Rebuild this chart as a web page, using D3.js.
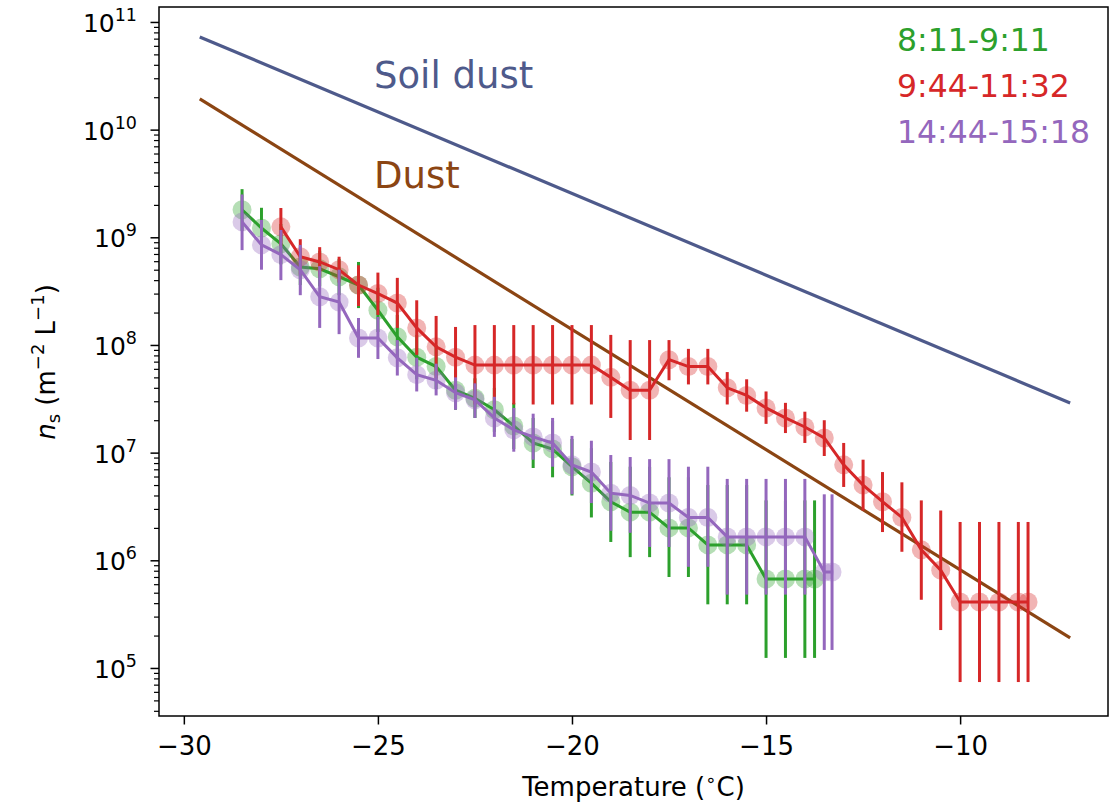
<!DOCTYPE html>
<html><head><meta charset="utf-8">
<script src="https://cdn.jsdelivr.net/npm/d3@7"></script>
<style>body{margin:0;background:#fff;} text{font-family:"DejaVu Sans",sans-serif;}</style>
</head><body>
<svg id="chart" width="1110" height="803"></svg>
<script>
// ---------- data ----------
const xTicks = [-30, -25, -20, -15, -10];
const yTickExps = [5, 6, 7, 8, 9, 10, 11];
const seriesLabels = ["8:11-9:11", "9:44-11:32", "14:44-15:18"];
const seriesColors = ["#2ca02c", "#d62728", "#9467bd"];

const soilDustT = [-29.59, -7.165];
const soilDustNs = [7.26e10, 2.89e7];
const dustT = [-29.59, -7.165];
const dustNs = [1.93e10, 1.90e5];

const greenT = [-28.5,-28,-27.5,-27,-26.5,-26,-25.5,-25,-24.5,-24,-23.5,-23,-22.5,-22,-21.5,-21,-20.5,-20,-19.5,-19,-18.5,-18,-17.5,-17,-16.5,-16,-15.5,-15,-14.5,-14,-13.75];
const greenNs = [1.8e9,1.22e9,8.7e8,5.3e8,5.1e8,4.3e8,3.6e8,2.1e8,1.19e8,7.7e7,6.3e7,3.8e7,3.2e7,2.5e7,1.77e7,1.23e7,1.08e7,7.4e6,5.2e6,3.5e6,2.8e6,2.8e6,2.0e6,2.0e6,1.39e6,1.39e6,1.39e6,6.7e5,6.7e5,6.7e5,6.7e5];
const greenLo = [1.15e9,8.0e8,5.6e8,3.6e8,3.5e8,2.9e8,2.2e8,1.32e8,7.4e7,4.8e7,3.9e7,2.5e7,2.1e7,1.56e7,1.08e7,7.2e6,5.9e6,4.0e6,2.5e6,1.48e6,1.07e6,1.07e6,7.0e5,7.0e5,3.9e5,3.9e5,3.9e5,1.24e5,1.24e5,1.24e5,1.24e5];
const greenHi = [2.8e9,1.88e9,1.33e9,7.8e8,7.5e8,6.3e8,5.9e8,3.4e8,1.9e8,1.24e8,1.0e8,5.9e7,4.9e7,4.0e7,2.9e7,2.1e7,1.97e7,1.34e7,1.1e7,8.2e6,7.4e6,7.4e6,5.9e6,5.9e6,5.0e6,5.0e6,5.0e6,3.6e6,3.6e6,3.6e6,3.6e6];

const redT = [-27.5,-27,-26.5,-26,-25.5,-25,-24.5,-24,-23.5,-23,-22.5,-22,-21.5,-21,-20.5,-20,-19.5,-19,-18.5,-18,-17.5,-17,-16.5,-16,-15.5,-15,-14.5,-14,-13.5,-13,-12.5,-12,-11.5,-11,-10.5,-10,-9.5,-9,-8.5,-8.25];
const redNs = [1.25e9,6.6e8,5.9e8,5.0e8,3.6e8,3.0e8,2.45e8,1.44e8,9.6e7,7.7e7,6.5e7,6.5e7,6.5e7,6.5e7,6.5e7,6.5e7,6.5e7,5.0e7,3.8e7,3.8e7,7.3e7,6.3e7,6.3e7,4.0e7,3.4e7,2.6e7,2.1e7,1.73e7,1.37e7,7.7e6,5.0e6,3.5e6,2.5e6,1.25e6,8.1e5,4.1e5,4.1e5,4.1e5,4.1e5,4.1e5];
const redLo = [8.3e8,4.5e8,4.3e8,3.8e8,2.3e8,1.9e8,1.44e8,8.1e7,4.9e7,4.1e7,2.8e7,2.8e7,2.8e7,2.8e7,2.8e7,2.8e7,2.8e7,2.1e7,1.31e7,1.31e7,4.7e7,4.3e7,4.3e7,2.8e7,2.4e7,1.85e7,1.52e7,1.23e7,9.3e6,4.8e6,2.9e6,1.83e6,1.2e6,4.3e5,2.25e5,7.4e4,7.4e4,7.4e4,7.4e4,7.4e4];
const redHi = [1.87e9,9.6e8,8.1e8,6.6e8,5.5e8,4.7e8,4.2e8,2.6e8,1.86e8,1.47e8,1.53e8,1.53e8,1.53e8,1.53e8,1.53e8,1.53e8,1.53e8,1.24e8,1.11e8,1.11e8,1.11e8,9.2e7,9.2e7,5.6e7,4.8e7,3.7e7,2.9e7,2.4e7,2.0e7,1.23e7,8.6e6,6.6e6,5.3e6,3.6e6,2.9e6,2.27e6,2.27e6,2.27e6,2.27e6,2.27e6];

const purpleT = [-28.5,-28,-27.5,-27,-26.5,-26,-25.5,-25,-24.5,-24,-23.5,-23,-22.5,-22,-21.5,-21,-20.5,-20,-19.5,-19,-18.5,-18,-17.5,-17,-16.5,-16,-15.5,-15,-14.5,-14,-13.5,-13.3];
const purpleNs = [1.39e9,8.5e8,6.9e8,5.0e8,2.8e8,2.5e8,1.16e8,1.16e8,7.6e7,5.3e7,4.7e7,3.6e7,3.1e7,2.1e7,1.63e7,1.40e7,1.23e7,7.7e6,6.6e6,4.2e6,4.0e6,3.4e6,3.4e6,2.5e6,2.5e6,1.65e6,1.65e6,1.65e6,1.65e6,1.65e6,7.8e5,7.8e5];
const purpleLo = [7.6e8,5.0e8,4.0e8,2.9e8,1.44e8,1.26e8,7.6e7,7.4e7,5.2e7,3.7e7,3.4e7,2.5e7,2.1e7,1.40e7,1.02e7,8.6e6,7.4e6,4.1e6,3.4e6,1.88e6,1.8e6,1.33e6,1.33e6,8.7e5,8.7e5,4.8e5,4.8e5,4.8e5,4.8e5,4.8e5,1.47e5,1.47e5];
const purpleHi = [2.5e9,1.45e9,1.17e9,8.5e8,5.4e8,5.0e8,1.78e8,1.82e8,1.11e8,7.6e7,6.7e7,5.0e7,4.4e7,3.3e7,2.6e7,2.3e7,2.1e7,1.43e7,1.29e7,9.5e6,9.1e6,8.7e6,8.7e6,7.4e6,7.4e6,5.7e6,5.7e6,5.7e6,5.7e6,5.7e6,4.1e6,4.1e6];

// ---------- layout ----------
const L = 159, R = 1108, T = 7, B = 716;
const svg = d3.select("#chart");
const x = d3.scaleLinear().domain([-30.64, -6.19]).range([L, R]);
const y = d3.scaleLog().domain([3.58e4, 1.377e11]).range([B, T]);

svg.append("defs").append("clipPath").attr("id", "clip")
  .append("rect").attr("x", L).attr("y", T).attr("width", R - L).attr("height", B - T);
const plot = svg.append("g").attr("clip-path", "url(#clip)");

// model lines
const modelLine = d3.line().x(d => x(d[0])).y(d => y(d[1]));
plot.append("path").datum(soilDustT.map((t, i) => [t, soilDustNs[i]]))
  .attr("d", modelLine).attr("fill", "none").attr("stroke", "#4e5a8b").attr("stroke-width", 3.2);
plot.append("path").datum(dustT.map((t, i) => [t, dustNs[i]]))
  .attr("d", modelLine).attr("fill", "none").attr("stroke", "#8b4513").attr("stroke-width", 3.2);

svg.append("text").attr("x", 374).attr("y", 88).attr("font-size", 37).attr("fill", "#4e5a8b").text("Soil dust");
svg.append("text").attr("x", 374).attr("y", 188).attr("font-size", 37).attr("fill", "#8b4513").text("Dust");

// series
const series = [
  {t: greenT, v: greenNs, lo: greenLo, hi: greenHi},
  {t: redT, v: redNs, lo: redLo, hi: redHi},
  {t: purpleT, v: purpleNs, lo: purpleLo, hi: purpleHi}
];
series.forEach((s, k) => {
  const col = seriesColors[k];
  const pts = s.t.map((t, i) => ({t, v: s.v[i], lo: s.lo[i], hi: s.hi[i]}));
  const g = plot.append("g");
  g.selectAll("circle").data(pts).join("circle")
    .attr("cx", d => x(d.t)).attr("cy", d => y(d.v)).attr("r", 9.5)
    .attr("fill", col).attr("fill-opacity", 0.35);
  g.append("path").datum(pts)
    .attr("d", d3.line().x(d => x(d.t)).y(d => y(d.v)))
    .attr("fill", "none").attr("stroke", col).attr("stroke-width", 3);
  g.selectAll("line.err").data(pts).join("line").attr("class", "err")
    .attr("x1", d => x(d.t)).attr("x2", d => x(d.t))
    .attr("y1", d => y(d.lo)).attr("y2", d => y(d.hi))
    .attr("stroke", col).attr("stroke-width", 3);
});

// legend (coloured text)
seriesLabels.forEach((lab, i) => {
  svg.append("text").attr("x", 897).attr("y", 51 + i * 46).attr("font-size", 31.5)
    .attr("fill", seriesColors[i]).text(lab);
});

// axes
const xAxis = d3.axisBottom(x).tickValues(xTicks).tickSize(8.5).tickPadding(8)
  .tickFormat(d => String(d).replace("-", "\u2212"));
const gx = svg.append("g").attr("transform", `translate(0,${B})`).call(xAxis);
gx.select(".domain").remove();
gx.selectAll("line").attr("stroke", "#000").attr("stroke-width", 1.5);
gx.selectAll("text").attr("font-size", 26).attr("fill", "#000").attr("font-family", "DejaVu Sans")
  .attr("y", 39).attr("dy", 0);

const majorVals = yTickExps.map(e => Math.pow(10, e));
const minorVals = [];
for (let e = 4; e <= 11; e++) for (let m = 2; m <= 9; m++) {
  const v = m * Math.pow(10, e);
  if (v >= y.domain()[0] && v <= y.domain()[1]) minorVals.push(v);
}
const gyMinor = svg.append("g").attr("transform", `translate(${L},0)`)
  .call(d3.axisLeft(y).tickValues(minorVals).tickSize(5).tickFormat(() => ""));
gyMinor.select(".domain").remove();
gyMinor.selectAll("line").attr("stroke", "#000").attr("stroke-width", 1.2);
const gy = svg.append("g").attr("transform", `translate(${L},0)`)
  .call(d3.axisLeft(y).tickValues(majorVals).tickSize(8.5).tickFormat(() => ""));
gy.select(".domain").remove();
gy.selectAll("line").attr("stroke", "#000").attr("stroke-width", 1.5);

yTickExps.forEach(e => {
  const yy = y(Math.pow(10, e));
  const t = svg.append("text").attr("x", 137).attr("y", yy + 10).attr("text-anchor", "end")
    .attr("font-size", 25).attr("fill", "#000");
  t.append("tspan").text("10");
  t.append("tspan").attr("font-size", 17.5).attr("dy", -11).text(String(e));
});

// frame
svg.append("rect").attr("x", L).attr("y", T).attr("width", R - L).attr("height", B - T)
  .attr("fill", "none").attr("stroke", "#000").attr("stroke-width", 1.5);

// axis labels
const xl = svg.append("text").attr("x", (L + R) / 2).attr("y", 796).attr("text-anchor", "middle")
  .attr("font-size", 26).attr("fill", "#000");
xl.append("tspan").text("Temperature (");
xl.append("tspan").attr("font-size", 18).attr("dy", -10).text("\u2218");
xl.append("tspan").attr("dy", 10).text("C)");

const yl = svg.append("text").attr("transform", "translate(55,362) rotate(-90)")
  .attr("text-anchor", "middle").attr("font-size", 26).attr("fill", "#000");
yl.append("tspan").attr("font-style", "italic").text("n");
yl.append("tspan").attr("font-size", 18).attr("dy", 5).text("s");
yl.append("tspan").attr("dy", -5).text(" (m");
yl.append("tspan").attr("font-size", 18).attr("dy", -11).text("\u22122");
yl.append("tspan").attr("dy", 11).text(" L");
yl.append("tspan").attr("font-size", 18).attr("dy", -11).text("\u22121");
yl.append("tspan").attr("dy", 11).text(")");
</script>
</body></html>
